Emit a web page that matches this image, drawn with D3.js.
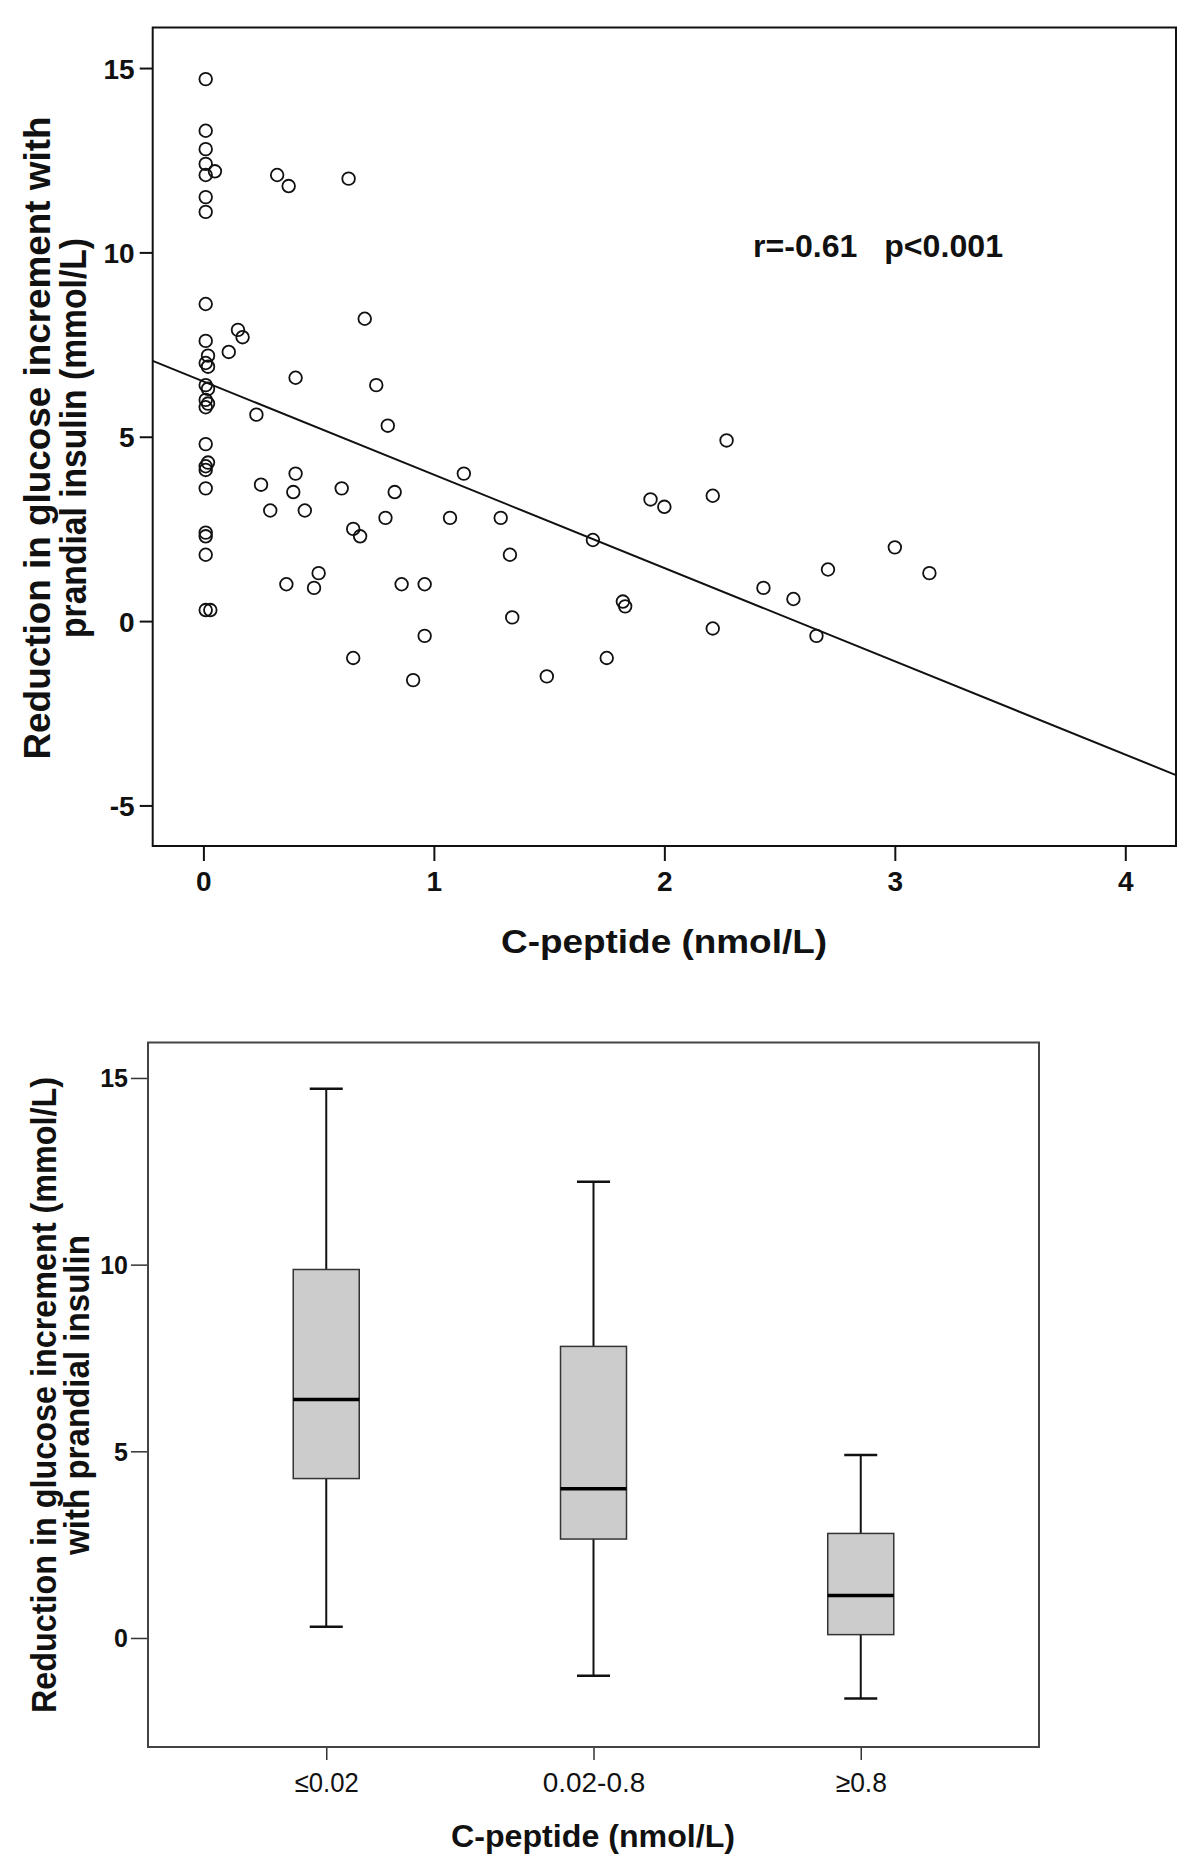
<!DOCTYPE html>
<html><head><meta charset="utf-8">
<script src="https://cdn.jsdelivr.net/npm/d3@7"></script>
<style>body{margin:0;background:#fff}</style>
</head><body>
<svg id="c" width="1200" height="1868" xmlns="http://www.w3.org/2000/svg"></svg>
<script>
// ---------- Scatter data ----------
const cPeptide = [
  0.01,0.01,0.01,0.01,0.01,0.01,0.01,0.01,0.01,0.01,0.01,0.01,0.01,0.01,0.01,0.01,0.01,0.01,0.01,0.01,0.01,
  0.02,0.02,0.02,0.02,0.02,
  0.05,0.03,
  0.32,0.37,0.63,
  0.70,0.15,0.17,0.11,
  0.40,0.75,0.23,0.80,
  0.40,0.25,0.39,0.60,0.83,
  0.29,0.44,0.79,1.07,1.29,1.13,
  0.65,0.68,1.33,0.50,0.36,0.48,0.86,0.96,
  1.34,0.96,0.65,0.91,1.49,
  2.27,1.94,2.00,2.21,1.69,1.82,1.83,1.75,2.21,2.43,2.56,2.66,2.71,3.00,3.15
];
const glucoseReduction = [
  14.7,13.3,12.8,12.4,12.1,11.5,11.1,8.6,7.6,7.0,6.4,6.0,5.8,4.8,4.2,4.1,3.6,2.4,2.3,1.8,0.3,
  7.2,6.9,6.3,5.9,4.3,
  12.2,0.3,
  12.1,11.8,12.0,
  8.2,7.9,7.7,7.3,
  6.6,6.4,5.6,5.3,
  4.0,3.7,3.5,3.6,3.5,
  3.0,3.0,2.8,2.8,2.8,4.0,
  2.5,2.3,1.8,1.3,1.0,0.9,1.0,1.0,
  0.1,-0.4,-1.0,-1.6,-1.5,
  4.9,3.3,3.1,3.4,2.2,0.53,0.4,-1.0,-0.2,0.9,0.6,-0.4,1.4,2.0,1.3
];
const fitIntercept = 6.50;
const fitSlope = -2.53;
const annotationText = "r=-0.61   p<0.001";
const scatterXTicks = [0, 1, 2, 3, 4];
const scatterYTicks = [-5, 0, 5, 10, 15];
const scatterXTitle = "C-peptide (nmol/L)";
const scatterYTitle = ["Reduction in glucose increment with", "prandial insulin (mmol/L)"];

// ---------- Box plot data ----------
const groups = ["≤0.02", "0.02-0.8", "≥0.8"];
const whiskerLow  = [0.30, -1.01, -1.62];
const quartile1   = [4.27, 2.65, 0.09];
const medians     = [6.39, 4.00, 1.14];
const quartile3   = [9.87, 7.81, 2.80];
const whiskerHigh = [14.71, 12.22, 4.90];
const boxYTicks = [0, 5, 10, 15];
const boxXTitle = "C-peptide (nmol/L)";
const boxYTitle = ["Reduction in glucose increment (mmol/L)", "with prandial insulin"];

const svg = d3.select("#c");
svg.append("rect").attr("width",1200).attr("height",1868).attr("fill","#fff");

const narrow = "'Liberation Sans Narrow','Arial Narrow','Liberation Sans',Arial,sans-serif";
const sans = "'Liberation Sans',Arial,sans-serif";
const plain = d => String(d);

// =============== SCATTER ===============
const sx = d3.scaleLinear().domain([-0.22, 4.22]).range([152.7, 1176]);
const sy = d3.scaleLinear().domain([-6.1, 16.1]).range([846, 27.5]);

const gS = svg.append("g");

// y axis
const yAx = gS.append("g").attr("transform", `translate(${sx.range()[0]},0)`)
  .call(d3.axisLeft(sy).tickValues(scatterYTicks).tickSize(13).tickPadding(5).tickFormat(plain));
yAx.select(".domain").remove();
yAx.selectAll("line").attr("stroke","#111").attr("stroke-width",2);
yAx.selectAll("text").attr("font-family",sans).attr("font-weight","bold").attr("font-size",28).attr("fill","#111").attr("dy","0.36em");

// x axis
const xAx = gS.append("g").attr("transform", `translate(0,${sy.range()[0]})`)
  .call(d3.axisBottom(sx).tickValues(scatterXTicks).tickSize(15).tickPadding(10).tickFormat(plain));
xAx.select(".domain").remove();
xAx.selectAll("line").attr("stroke","#111").attr("stroke-width",2);
xAx.selectAll("text").attr("font-family",sans).attr("font-weight","bold").attr("font-size",28).attr("fill","#111");

// frame
gS.append("rect")
  .attr("x", sx.range()[0]).attr("y", sy.range()[1])
  .attr("width", sx.range()[1]-sx.range()[0]).attr("height", sy.range()[0]-sy.range()[1])
  .attr("fill","none").attr("stroke","#111").attr("stroke-width",2);

// regression line
const xd = sx.domain();
gS.append("line")
  .attr("x1", sx(xd[0])).attr("y1", sy(fitIntercept + fitSlope*xd[0]))
  .attr("x2", sx(xd[1])).attr("y2", sy(fitIntercept + fitSlope*xd[1]))
  .attr("stroke","#111").attr("stroke-width",2);

// points
gS.append("g").selectAll("circle")
  .data(cPeptide.map((c,i)=>({x:c, y:glucoseReduction[i]})))
  .join("circle")
  .attr("cx", d=>sx(d.x)).attr("cy", d=>sy(d.y)).attr("r", 6.3)
  .attr("fill","none").attr("stroke","#111").attr("stroke-width",1.8);

// annotation
gS.append("text").attr("x", 753).attr("y", 257)
  .attr("font-family",narrow).attr("font-weight","bold").attr("font-size",32).attr("fill","#111")
  .attr("textLength",250).attr("lengthAdjust","spacingAndGlyphs")
  .style("white-space","pre").text(annotationText);

// x title
gS.append("text").attr("x", 664).attr("y", 953).attr("text-anchor","middle")
  .attr("font-family",narrow).attr("font-weight","bold").attr("font-size",34).attr("fill","#111")
  .attr("textLength",326).attr("lengthAdjust","spacingAndGlyphs")
  .text(scatterXTitle);

// y title
const yTitleLens = [643, 400];
const yTitleX = [50, 86];
scatterYTitle.forEach((t,i)=>{
  gS.append("text")
    .attr("transform", `translate(${yTitleX[i]},438) rotate(-90)`)
    .attr("text-anchor","middle")
    .attr("font-family",narrow).attr("font-weight","bold").attr("font-size",37).attr("fill","#111")
    .attr("textLength",yTitleLens[i]).attr("lengthAdjust","spacingAndGlyphs")
    .text(t);
});

// =============== BOX PLOT ===============
const bx = d3.scalePoint().domain(groups).range([148, 1039]).padding(0.667);
const by = d3.scaleLinear().domain([-2.92, 15.95]).range([1747, 1042.5]);
const gB = svg.append("g");

const byAx = gB.append("g").attr("transform", `translate(${bx.range()[0]},0)`)
  .call(d3.axisLeft(by).tickValues(boxYTicks).tickSize(17).tickPadding(3).tickFormat(plain));
byAx.select(".domain").remove();
byAx.selectAll("line").attr("stroke","#333").attr("stroke-width",1.5);
byAx.selectAll("text").attr("font-family",sans).attr("font-weight","bold").attr("font-size",25).attr("fill","#111").attr("dy","0.36em");

const bxAx = gB.append("g").attr("transform", `translate(0,${by.range()[0]})`)
  .call(d3.axisBottom(bx).tickSize(13).tickPadding(12));
bxAx.select(".domain").remove();
bxAx.selectAll("line").attr("stroke","#333").attr("stroke-width",1.5);
bxAx.selectAll("text").attr("font-family",narrow).attr("font-size",28).attr("fill","#111")
  .each(function(){ const n=this.textContent.length; d3.select(this).attr("textLength", n*12.8).attr("lengthAdjust","spacingAndGlyphs"); });

gB.append("rect")
  .attr("x", bx.range()[0]).attr("y", by.range()[1])
  .attr("width", bx.range()[1]-bx.range()[0]).attr("height", by.range()[0]-by.range()[1])
  .attr("fill","none").attr("stroke","#444").attr("stroke-width",2);

const boxW = 66, capW = 33;
groups.forEach((g,i)=>{
  const cx = bx(g);
  gB.append("line").attr("x1",cx).attr("x2",cx).attr("y1",by(quartile3[i])).attr("y2",by(whiskerHigh[i]))
    .attr("stroke","#111").attr("stroke-width",2);
  gB.append("line").attr("x1",cx).attr("x2",cx).attr("y1",by(quartile1[i])).attr("y2",by(whiskerLow[i]))
    .attr("stroke","#111").attr("stroke-width",2);
  gB.append("line").attr("x1",cx-capW/2).attr("x2",cx+capW/2).attr("y1",by(whiskerHigh[i])).attr("y2",by(whiskerHigh[i]))
    .attr("stroke","#111").attr("stroke-width",2.5);
  gB.append("line").attr("x1",cx-capW/2).attr("x2",cx+capW/2).attr("y1",by(whiskerLow[i])).attr("y2",by(whiskerLow[i]))
    .attr("stroke","#111").attr("stroke-width",2.5);
  gB.append("rect").attr("x",cx-boxW/2).attr("width",boxW)
    .attr("y",by(quartile3[i])).attr("height",by(quartile1[i])-by(quartile3[i]))
    .attr("fill","#cccccc").attr("stroke","#333").attr("stroke-width",1.5);
  gB.append("line").attr("x1",cx-boxW/2).attr("x2",cx+boxW/2).attr("y1",by(medians[i])).attr("y2",by(medians[i]))
    .attr("stroke","#000").attr("stroke-width",3.5);
});

gB.append("text").attr("x", 593).attr("y", 1847).attr("text-anchor","middle")
  .attr("font-family",narrow).attr("font-weight","bold").attr("font-size",32).attr("fill","#111")
  .attr("textLength",284).attr("lengthAdjust","spacingAndGlyphs")
  .text(boxXTitle);

const bTitleLens = [636, 320];
const bTitleX = [56, 89];
boxYTitle.forEach((t,i)=>{
  gB.append("text")
    .attr("transform", `translate(${bTitleX[i]},1395) rotate(-90)`)
    .attr("text-anchor","middle")
    .attr("font-family",narrow).attr("font-weight","bold").attr("font-size",35).attr("fill","#111")
    .attr("textLength",bTitleLens[i]).attr("lengthAdjust","spacingAndGlyphs")
    .text(t);
});
</script>
</body></html>
